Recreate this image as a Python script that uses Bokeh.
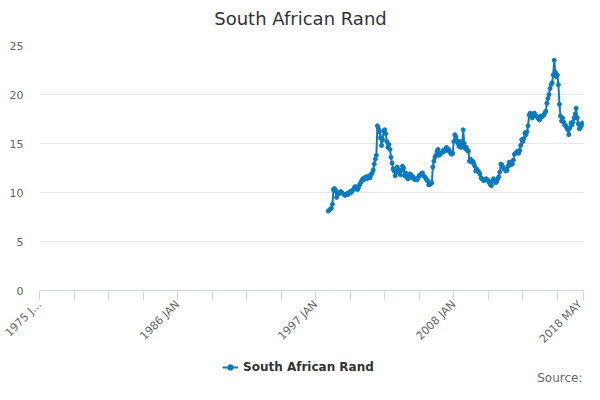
import math
from bokeh.plotting import figure
from bokeh.layouts import column
from bokeh.models import (Range1d, FixedTicker, Legend, LegendItem, Label)
from bokeh.embed import file_html
from bokeh.resources import INLINE

# ---------------- data ----------------
MONTHS = ["JAN", "FEB", "MAR", "APR", "MAY", "JUN",
          "JUL", "AUG", "SEP", "OCT", "NOV", "DEC"]
categories = [f"{y} {m}" for y in range(1975, 2019) for m in MONTHS]
categories = categories[:categories.index("2018 MAY") + 1]

series_name = "South African Rand"
series_start = "1998 JAN"
rand = [
    # 1998
    8.1, 8.2, 8.3, 8.4, 8.8, 10.3, 10.4, 10.2, 9.5, 9.8, 9.9, 10.0,
    # 1999
    10.1, 10.0, 9.9, 9.8, 9.7, 9.8, 9.9, 9.8, 10.0, 10.1, 10.0, 10.2,
    # 2000
    10.3, 10.5, 10.6, 10.4, 10.3, 10.5, 10.8, 11.0, 11.2, 11.4, 11.3, 11.5,
    # 2001
    11.6, 11.4, 11.6, 11.7, 11.5, 11.8, 12.0, 12.3, 12.9, 13.4, 13.8, 16.8,
    # 2002
    16.5, 16.2, 15.6, 14.8, 15.4, 16.3, 16.4, 16.0, 15.2, 14.6, 14.9, 14.4,
    # 2003
    13.6, 13.0, 12.4, 12.2, 11.7, 12.1, 12.6, 12.3, 12.0, 11.8, 12.3, 12.7,
    # 2004
    12.5, 11.7, 12.0, 11.6, 11.4, 11.6, 11.9, 11.8, 11.5, 11.6, 11.4, 11.3,
    # 2005
    11.4, 11.3, 11.5, 11.7, 11.8, 11.9, 12.0, 11.7, 11.6, 11.5, 11.3, 11.2,
    # 2006
    10.8, 10.8, 10.9, 11.0, 12.6, 13.2, 13.6, 13.8, 14.2, 14.4, 13.8, 13.9,
    # 2007
    14.0, 14.1, 14.3, 14.2, 14.4, 14.6, 14.3, 14.4, 14.2, 14.0, 13.9, 14.0,
    # 2008
    15.2, 15.9, 15.7, 15.3, 15.0, 14.7, 15.2, 14.6, 14.8, 16.4, 15.0, 14.5,
    # 2009
    14.6, 14.3, 14.2, 13.2, 13.4, 13.1, 13.2, 13.0, 12.7, 12.2, 12.4, 12.2,
    # 2010
    12.1, 11.9, 11.5, 11.4, 11.3, 11.2, 11.3, 11.4, 11.3, 11.2, 11.0, 10.8,
    # 2011
    10.7, 11.2, 11.4, 11.2, 11.0, 11.1, 11.4, 11.6, 12.1, 12.9, 12.8, 12.6,
    # 2012
    12.4, 12.4, 12.2, 12.3, 12.7, 13.1, 12.8, 13.0, 12.9, 13.3, 13.9, 14.0,
    # 2013
    14.1, 14.2, 14.0, 14.3, 14.8, 15.4, 15.2, 15.5, 16.1, 15.9, 16.2, 16.8,
    # 2014
    17.9, 18.1, 17.8, 17.6, 17.8, 18.1, 17.9, 17.8, 17.7, 17.5, 17.4, 17.8,
    # 2015
    17.7, 17.8, 17.9, 18.1, 18.3, 19.1, 19.6, 20.0, 20.6, 21.0, 21.2, 22.0,
    # 2016
    23.5, 22.3, 21.8, 22.0, 21.0, 19.0, 17.8, 17.3, 17.6, 17.2, 16.9, 16.8,
    # 2017
    16.6, 16.4, 15.9, 16.6, 17.1, 16.9, 17.2, 17.6, 18.0, 18.6, 17.6, 17.0,
    # 2018
    16.5, 16.6, 16.9, 17.1, 16.9,
]

y_ticks = [0, 5, 10, 15, 20, 25]
x_tick_categories = ["1975 JAN", "1986 JAN", "1997 JAN", "2008 JAN", "2018 MAY"]
x_tick_labels = ["1975 J\u2026", "1986 JAN", "1997 JAN", "2008 JAN", "2018 MAY"]
minor_step = 33
title_text = "South African Rand"
credits_text = "Source:"

FONT = "DejaVu Sans"
BLUE = "#0A7BC1"
W = 584


def strip(height):
    s = figure(width=W, height=height, output_backend="svg",
               toolbar_location=None,
               x_range=Range1d(-700, -116), y_range=Range1d(0, height),
               x_axis_type=None, y_axis_type=None, min_border=0)
    s.outline_line_color = None
    s.grid.grid_line_color = None
    s.background_fill_color = "white"
    s.border_fill_color = "white"
    return s


# ---------------- title strip ----------------
p0 = strip(30)
p0.add_layout(Label(x=261, y=12, x_units="screen", y_units="screen",
                    text=title_text, text_align="center",
                    text_baseline="middle", text_font=FONT,
                    text_font_size="18px", text_color="#333333"))

# ---------------- main figure ----------------
start = categories.index(series_start)
xs = list(range(start, start + len(rand)))
n_last = len(categories) - 1

p = figure(width=W, height=323, output_backend="svg", toolbar_location=None,
           x_range=Range1d(0, n_last), y_range=Range1d(0, 25),
           min_border_left=39, min_border_right=1,
           min_border_top=15, min_border_bottom=60)
p.outline_line_color = None
p.background_fill_color = "white"
p.border_fill_color = "white"

p.line(xs, rand, line_color=BLUE, line_width=2)
p.scatter(xs, rand, size=4, fill_color=BLUE, line_color=BLUE)

# y axis
p.yaxis.ticker = FixedTicker(ticks=y_ticks)
p.yaxis.axis_line_color = None
p.yaxis.major_tick_line_color = None
p.yaxis.minor_tick_line_color = None
p.yaxis.major_tick_out = 0
p.yaxis.major_label_standoff = 16
p.yaxis.major_label_text_font = FONT
p.yaxis.major_label_text_font_size = "11px"
p.yaxis.major_label_text_color = "#666666"
p.ygrid.grid_line_color = "#e6e6e6"
p.xgrid.grid_line_color = None

# x axis
major = [categories.index(c) for c in x_tick_categories]
minor = [i for i in range(0, n_last + 1, minor_step) if i not in major]
p.xaxis.ticker = FixedTicker(ticks=major, minor_ticks=minor)
p.xaxis.major_label_overrides = {m: lab for m, lab in zip(major, x_tick_labels)}
p.xaxis.axis_line_color = "#ccd6eb"
p.xaxis.major_tick_line_color = "#ccd6eb"
p.xaxis.minor_tick_line_color = "#ccd6eb"
p.xaxis.major_tick_out = 10
p.xaxis.major_tick_in = 0
p.xaxis.minor_tick_out = 10
p.xaxis.minor_tick_in = 0
p.xaxis.major_label_orientation = math.pi / 4
p.xaxis.major_label_text_font = FONT
p.xaxis.major_label_text_font_size = "11px"
p.xaxis.major_label_text_color = "#666666"
p.xaxis.major_label_standoff = 2

# ---------------- legend / credits strip ----------------
p2 = strip(31)
# same series drawn outside the strip's view; only its legend swatch shows
ln2 = p2.line(xs, rand, line_color=BLUE, line_width=2)
sc2 = p2.scatter(xs, rand, size=4, fill_color=BLUE, line_color=BLUE)

legend = Legend(items=[LegendItem(label=series_name, renderers=[ln2, sc2])],
                location=(183, 10), orientation="horizontal",
                glyph_width=16, glyph_height=14, label_standoff=5,
                label_height=14, padding=0, margin=0, spacing=0,
                border_line_color=None, background_fill_alpha=0,
                label_text_font=FONT, label_text_font_size="12px",
                label_text_font_style="bold", label_text_color="#333333")
p2.add_layout(legend, "center")

p2.add_layout(Label(x=543, y=7, x_units="screen", y_units="screen",
                    text=credits_text, text_align="right",
                    text_baseline="middle", text_font=FONT,
                    text_font_size="12px", text_color="#666666"))

layout = column(p0, p, p2, spacing=0)
open("out.html", "w").write(file_html(layout, INLINE))
